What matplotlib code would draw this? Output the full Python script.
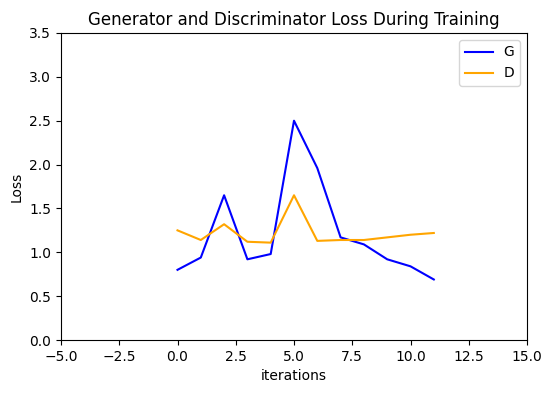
import matplotlib
matplotlib.use("Agg")
import matplotlib.pyplot as plt

iterations = list(range(12))
G_losses = [0.80, 0.94, 1.65, 0.92, 0.98, 2.50, 1.96, 1.17, 1.09, 0.92, 0.84, 0.69]
D_losses = [1.25, 1.14, 1.32, 1.12, 1.11, 1.65, 1.13, 1.14, 1.14, 1.17, 1.20, 1.22]

fig = plt.figure(figsize=(5.51, 3.93), dpi=100)
ax = fig.add_axes([61/551, 1-340/393, (527-61)/551, (340-33)/393])
ax.plot(iterations, G_losses, color="blue", label="G")
ax.plot(iterations, D_losses, color="orange", label="D")
ax.set_xlim(-5, 15)
ax.set_ylim(0, 3.5)
ax.set_title("Generator and Discriminator Loss During Training")
ax.set_xlabel("iterations")
ax.set_ylabel("Loss")
ax.legend()
fig.savefig("out.png", dpi=100)
